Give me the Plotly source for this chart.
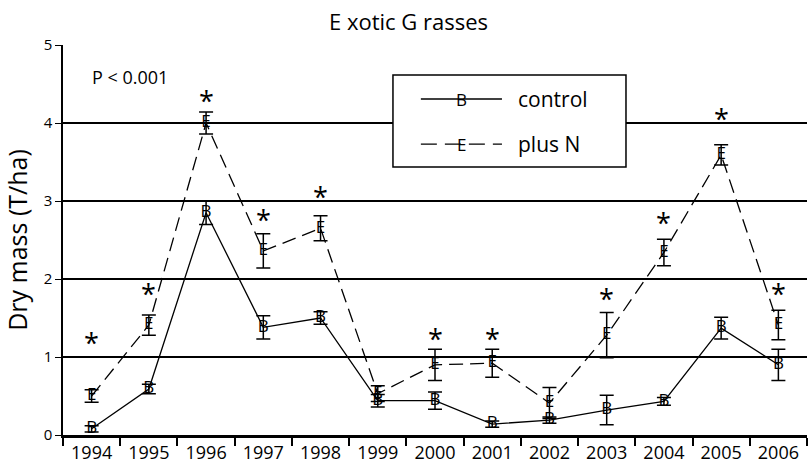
import plotly.graph_objects as go

years = ["1994", "1995", "1996", "1997", "1998", "1999", "2000",
         "2001", "2002", "2003", "2004", "2005", "2006"]
control = [0.08, 0.59, 2.85, 1.38, 1.50, 0.44, 0.44, 0.14, 0.19, 0.32, 0.43, 1.37, 0.90]
control_err = [0.04, 0.06, 0.15, 0.15, 0.08, 0.08, 0.11, 0.04, 0.04, 0.19, 0.05, 0.14, 0.20]
plus_n = [0.50, 1.41, 4.00, 2.36, 2.65, 0.53, 0.90, 0.92, 0.41, 1.28, 2.34, 3.59, 1.41]
plus_n_err = [0.08, 0.13, 0.14, 0.22, 0.16, 0.10, 0.20, 0.18, 0.20, 0.29, 0.17, 0.13, 0.19]
sig_years = ["1994", "1995", "1996", "1997", "1998", "2000", "2001",
             "2003", "2004", "2005", "2006"]
sig_level = [1.22, 1.85, 4.33, 2.80, 3.10, 1.28, 1.28, 1.79, 2.76, 4.10, 1.85]

FONT = "Open Sans"
fig = go.Figure()

fig.add_trace(go.Scatter(
    x=years, y=control, mode="lines+text", text=["B"] * len(years),
    textposition="middle center",
    textfont=dict(family=FONT, size=17, color="black"),
    line=dict(color="black", width=1.3),
    error_y=dict(type="data", array=control_err, color="black", thickness=1.5, width=7),
    showlegend=False, cliponaxis=False))

fig.add_trace(go.Scatter(
    x=years, y=plus_n, mode="lines+text", text=["E"] * len(years),
    textposition="middle center",
    textfont=dict(family=FONT, size=17, color="black"),
    line=dict(color="black", width=1.3, dash="14px,7px"),
    error_y=dict(type="data", array=plus_n_err, color="black", thickness=1.5, width=7),
    showlegend=False, cliponaxis=False))

# legend box (manual)
shapes = [
    dict(type="rect", xref="paper", yref="paper", x0=0.4435, x1=0.7567, y0=0.687, y1=0.923,
         line=dict(color="black", width=1.5), fillcolor="white", layer="above"),
    dict(type="line", xref="paper", yref="paper", x0=0.481, x1=0.590, y0=0.8615, y1=0.8615,
         line=dict(color="black", width=1.3), layer="above"),
    dict(type="line", xref="paper", yref="paper", x0=0.481, x1=0.590, y0=0.746, y1=0.746,
         line=dict(color="black", width=1.3, dash="16px,8px"), layer="above"),
]

annotations = [
    dict(text="B", xref="paper", yref="paper", x=0.5355, y=0.8615, showarrow=False,
         xanchor="center", yanchor="middle", font=dict(family=FONT, size=17, color="black")),
    dict(text="E", xref="paper", yref="paper", x=0.5355, y=0.746, showarrow=False,
         xanchor="center", yanchor="middle", font=dict(family=FONT, size=17, color="black")),
    dict(text="control", xref="paper", yref="paper", x=0.609, y=0.8615, xanchor="left",
         yanchor="middle", showarrow=False, font=dict(family=FONT, size=21, color="black")),
    dict(text="plus N", xref="paper", yref="paper", x=0.609, y=0.746, xanchor="left",
         yanchor="middle", showarrow=False, font=dict(family=FONT, size=21, color="black")),
    dict(text="P < 0.001", xref="paper", yref="paper", x=0.036, y=0.918, xanchor="left",
         yanchor="middle", showarrow=False, font=dict(family=FONT, size=18, color="black")),
]
for yr, lvl in zip(sig_years, sig_level):
    annotations.append(dict(text="*", x=years.index(yr), y=lvl, xref="x", yref="y",
                            showarrow=False, xanchor="center", yanchor="middle",
                            yshift=-3, font=dict(family=FONT, size=27, color="black")))

fig.update_layout(
    width=809, height=469,
    margin=dict(l=63, r=2, t=45, b=34),
    paper_bgcolor="white", plot_bgcolor="white",
    title=dict(text="E xotic G rasses", x=0.505, xanchor="center", y=0.953, yanchor="middle",
               font=dict(family=FONT, size=22, color="black")),
    shapes=shapes, annotations=annotations,
    font=dict(family=FONT, color="black"),
)

fig.update_xaxes(
    type="category", tickson="boundaries", ticks="outside", ticklen=8, tickwidth=1.5,
    tickcolor="black", showline=True, linecolor="black", linewidth=2.5,
    showgrid=False, tickfont=dict(family=FONT, size=18, color="black"),
    range=[-0.5, 12.5])

fig.update_yaxes(
    range=[0, 5], tickvals=[0, 1, 2, 3, 4, 5], ticks="outside", ticklen=6, tickwidth=1.2,
    tickcolor="black", showline=True, linecolor="black", linewidth=1.5,
    showgrid=True, gridcolor="black", gridwidth=1.5, zeroline=False,
    tickfont=dict(family=FONT, size=15, color="black"),
    title=dict(text="Dry mass (T/ha)", font=dict(family=FONT, size=25, color="black"), standoff=12))

fig.write_html("out.html", config={"displayModeBar": False},
               post_script="document.body.style.margin='0';")
